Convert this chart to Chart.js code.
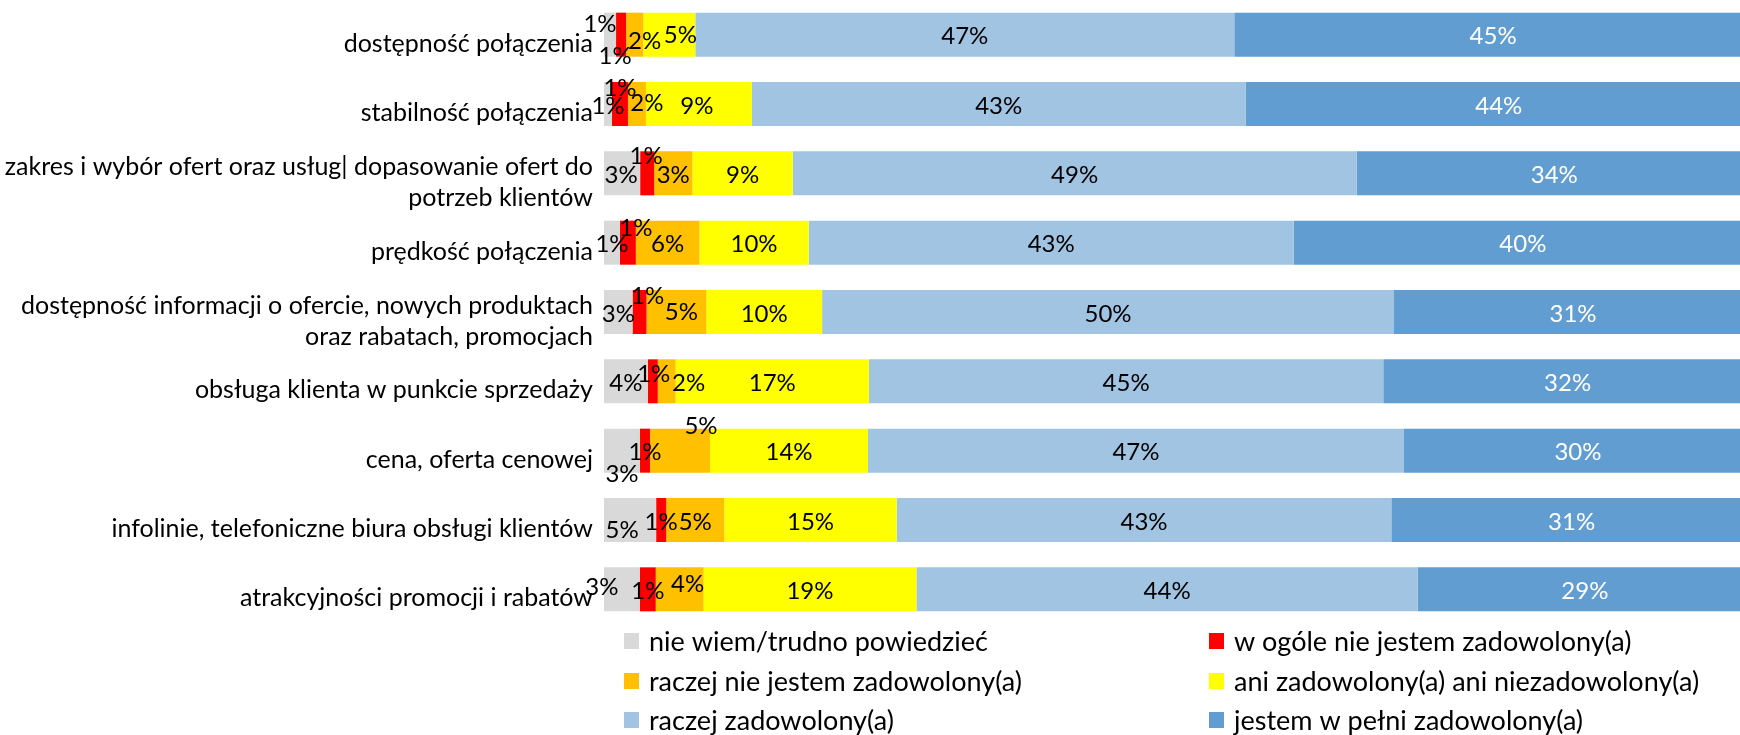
<!DOCTYPE html>
<html lang="pl">
<head>
<meta charset="utf-8">
<title>Zadowolenie z usług</title>
<script src="https://cdn.jsdelivr.net/npm/chart.js@4.4.2/dist/chart.umd.min.js"></script>
<style>
  html, body { margin: 0; padding: 0; background: #fff; overflow: hidden; }
  #chart { display: block; }
</style>
</head>
<body>
<canvas id="chart" width="1740" height="735"></canvas>
<script>
// ── Data ─────────────────────────────────────────────────────
const categories = [
  'dostępność połączenia',
  'stabilność połączenia',
  ['zakres i wybór ofert oraz usług| dopasowanie ofert do', 'potrzeb klientów'],
  'prędkość połączenia',
  ['dostępność informacji o ofercie, nowych produktach', 'oraz rabatach, promocjach'],
  'obsługa klienta w punkcie sprzedaży',
  'cena, oferta cenowej',
  'infolinie, telefoniczne biura obsługi klientów',
  'atrakcyjności promocji i rabatów',
];

const seriesNames = [
  'nie wiem/trudno powiedzieć',
  'w ogóle nie jestem zadowolony(a)',
  'raczej nie jestem zadowolony(a)',
  'ani zadowolony(a) ani niezadowolony(a)',
  'raczej zadowolony(a)',
  'jestem w pełni zadowolony(a)',
];

// shares in %, labels show them rounded
const nieWiem   = [1.06, 0.70, 3.17, 1.41, 2.52, 3.87, 3.17, 4.58, 3.17];
const wOgoleNie = [0.88, 1.41, 1.23, 1.41, 1.23, 0.88, 0.88, 0.88, 1.41];
const raczejNie = [1.52, 1.58, 3.35, 5.63, 5.28, 1.58, 5.28, 5.11, 4.23];
const aniAni    = [4.58, 9.33, 8.80, 9.68, 10.21, 17.08, 13.91, 15.14, 18.84];
const raczejTak = [47.45, 43.45, 49.45, 42.96, 50.45, 45.45, 47.18, 43.45, 44.37];
const wPelni    = [44.52, 43.52, 33.63, 39.52, 30.52, 31.52, 29.58, 30.63, 28.52];

const series = [nieWiem, wOgoleNie, raczejNie, aniAni, raczejTak, wPelni];
const colors = ['#D9D9D9', '#FF0000', '#FFC000', '#FFFF00', '#A1C4E2', '#619DD1'];
const labelColors = ['#000', '#000', '#000', '#000', '#000', '#fff'];

// 100% stacked: each row normalised to its own total
const rowTotals = categories.map((_, j) => series.reduce((s, arr) => s + arr[j], 0));

// label nudges where Excel moved small labels off the segment centre ("series,row": [dx, dy])
const labelNudge = {
  '0,0': [-10, -12], '1,0': [-6, 20], '2,0': [10, 5], '3,0': [11, -1],
  '1,1': [0, -18], '2,1': [10, -3], '3,1': [-2, 0],
  '0,2': [-1, 0], '1,2': [-1, -19],
  '1,3': [8, -16],
  '1,4': [8, -18], '2,4': [5, -2],
  '1,5': [1, -9], '2,5': [22, 0],
  '0,6': [0, 22], '2,6': [21, -26],
  '0,7': [-8, 8],
  '0,8': [-20, -4], '2,8': [8, -7],
};

// ── Plugins ──────────────────────────────────────────────────
const segmentLabels = {
  id: 'segmentLabels',
  afterDatasetsDraw(chart, args, opts) {
    const ctx = chart.ctx;
    ctx.save();
    ctx.font = opts.font;
    ctx.textAlign = 'center';
    ctx.textBaseline = 'middle';
    chart.data.datasets.forEach((ds, i) => {
      chart.getDatasetMeta(i).data.forEach((bar, j) => {
        const n = labelNudge[i + ',' + j] || [0, 0];
        const dx = n[0] + (opts.shiftX[i] || 0);
        ctx.fillStyle = labelColors[i];
        ctx.fillText(Math.round(ds.raw[j]) + '%', (bar.x + bar.base) / 2 + dx, bar.y + 2 + n[1]);
      });
    });
    ctx.restore();
  }
};

const legendGrid = {
  id: 'legendGrid',
  afterDraw(chart, args, opts) {
    const ctx = chart.ctx;
    ctx.save();
    ctx.font = opts.font;
    ctx.textAlign = 'left';
    ctx.textBaseline = 'middle';
    chart.data.datasets.forEach((ds, i) => {
      const x = opts.columns[i % 2];
      const y = opts.rows[Math.floor(i / 2)];
      ctx.fillStyle = ds.backgroundColor;
      ctx.fillRect(x, y - 8, 15, 16);
      ctx.fillStyle = '#000';
      ctx.fillText(ds.label, x + 25, y + 1);
    });
    ctx.restore();
  }
};

// ── Chart ────────────────────────────────────────────────────
new Chart(document.getElementById('chart'), {
  type: 'bar',
  data: {
    labels: categories,
    datasets: series.map((arr, i) => ({
      label: seriesNames[i],
      data: arr.map((v, j) => v / rowTotals[j] * 100),
      raw: arr,
      backgroundColor: colors[i],
      borderWidth: 0,
      barPercentage: 0.635,
      categoryPercentage: 1,
    })),
  },
  plugins: [segmentLabels, legendGrid],
  options: {
    indexAxis: 'y',
    responsive: false,
    animation: false,
    layout: { padding: { top: 0, right: 0, bottom: 111, left: 0 } },
    plugins: {
      legend: { display: false },
      tooltip: { enabled: false },
      segmentLabels: { font: '24px Lato', shiftX: { 5: 6 } },
      legendGrid: { font: '27px Lato', columns: [624, 1209], rows: [641, 681, 720] },
    },
    scales: {
      x: { stacked: true, min: 0, max: 100, display: false },
      y: {
        stacked: true,
        grid: { display: false, drawTicks: false },
        border: { display: false },
        ticks: {
          color: '#000',
          autoSkip: false,
          padding: 11,
          labelOffset: 9,
          font: { family: 'Lato', size: 25, lineHeight: 1.24 },
        },
        afterFit(scale) {
          scale.width = 604;
          scale.paddingTop = 0;
          scale.paddingBottom = 0;
        },
      },
    },
  },
});
</script>
</body>
</html>
